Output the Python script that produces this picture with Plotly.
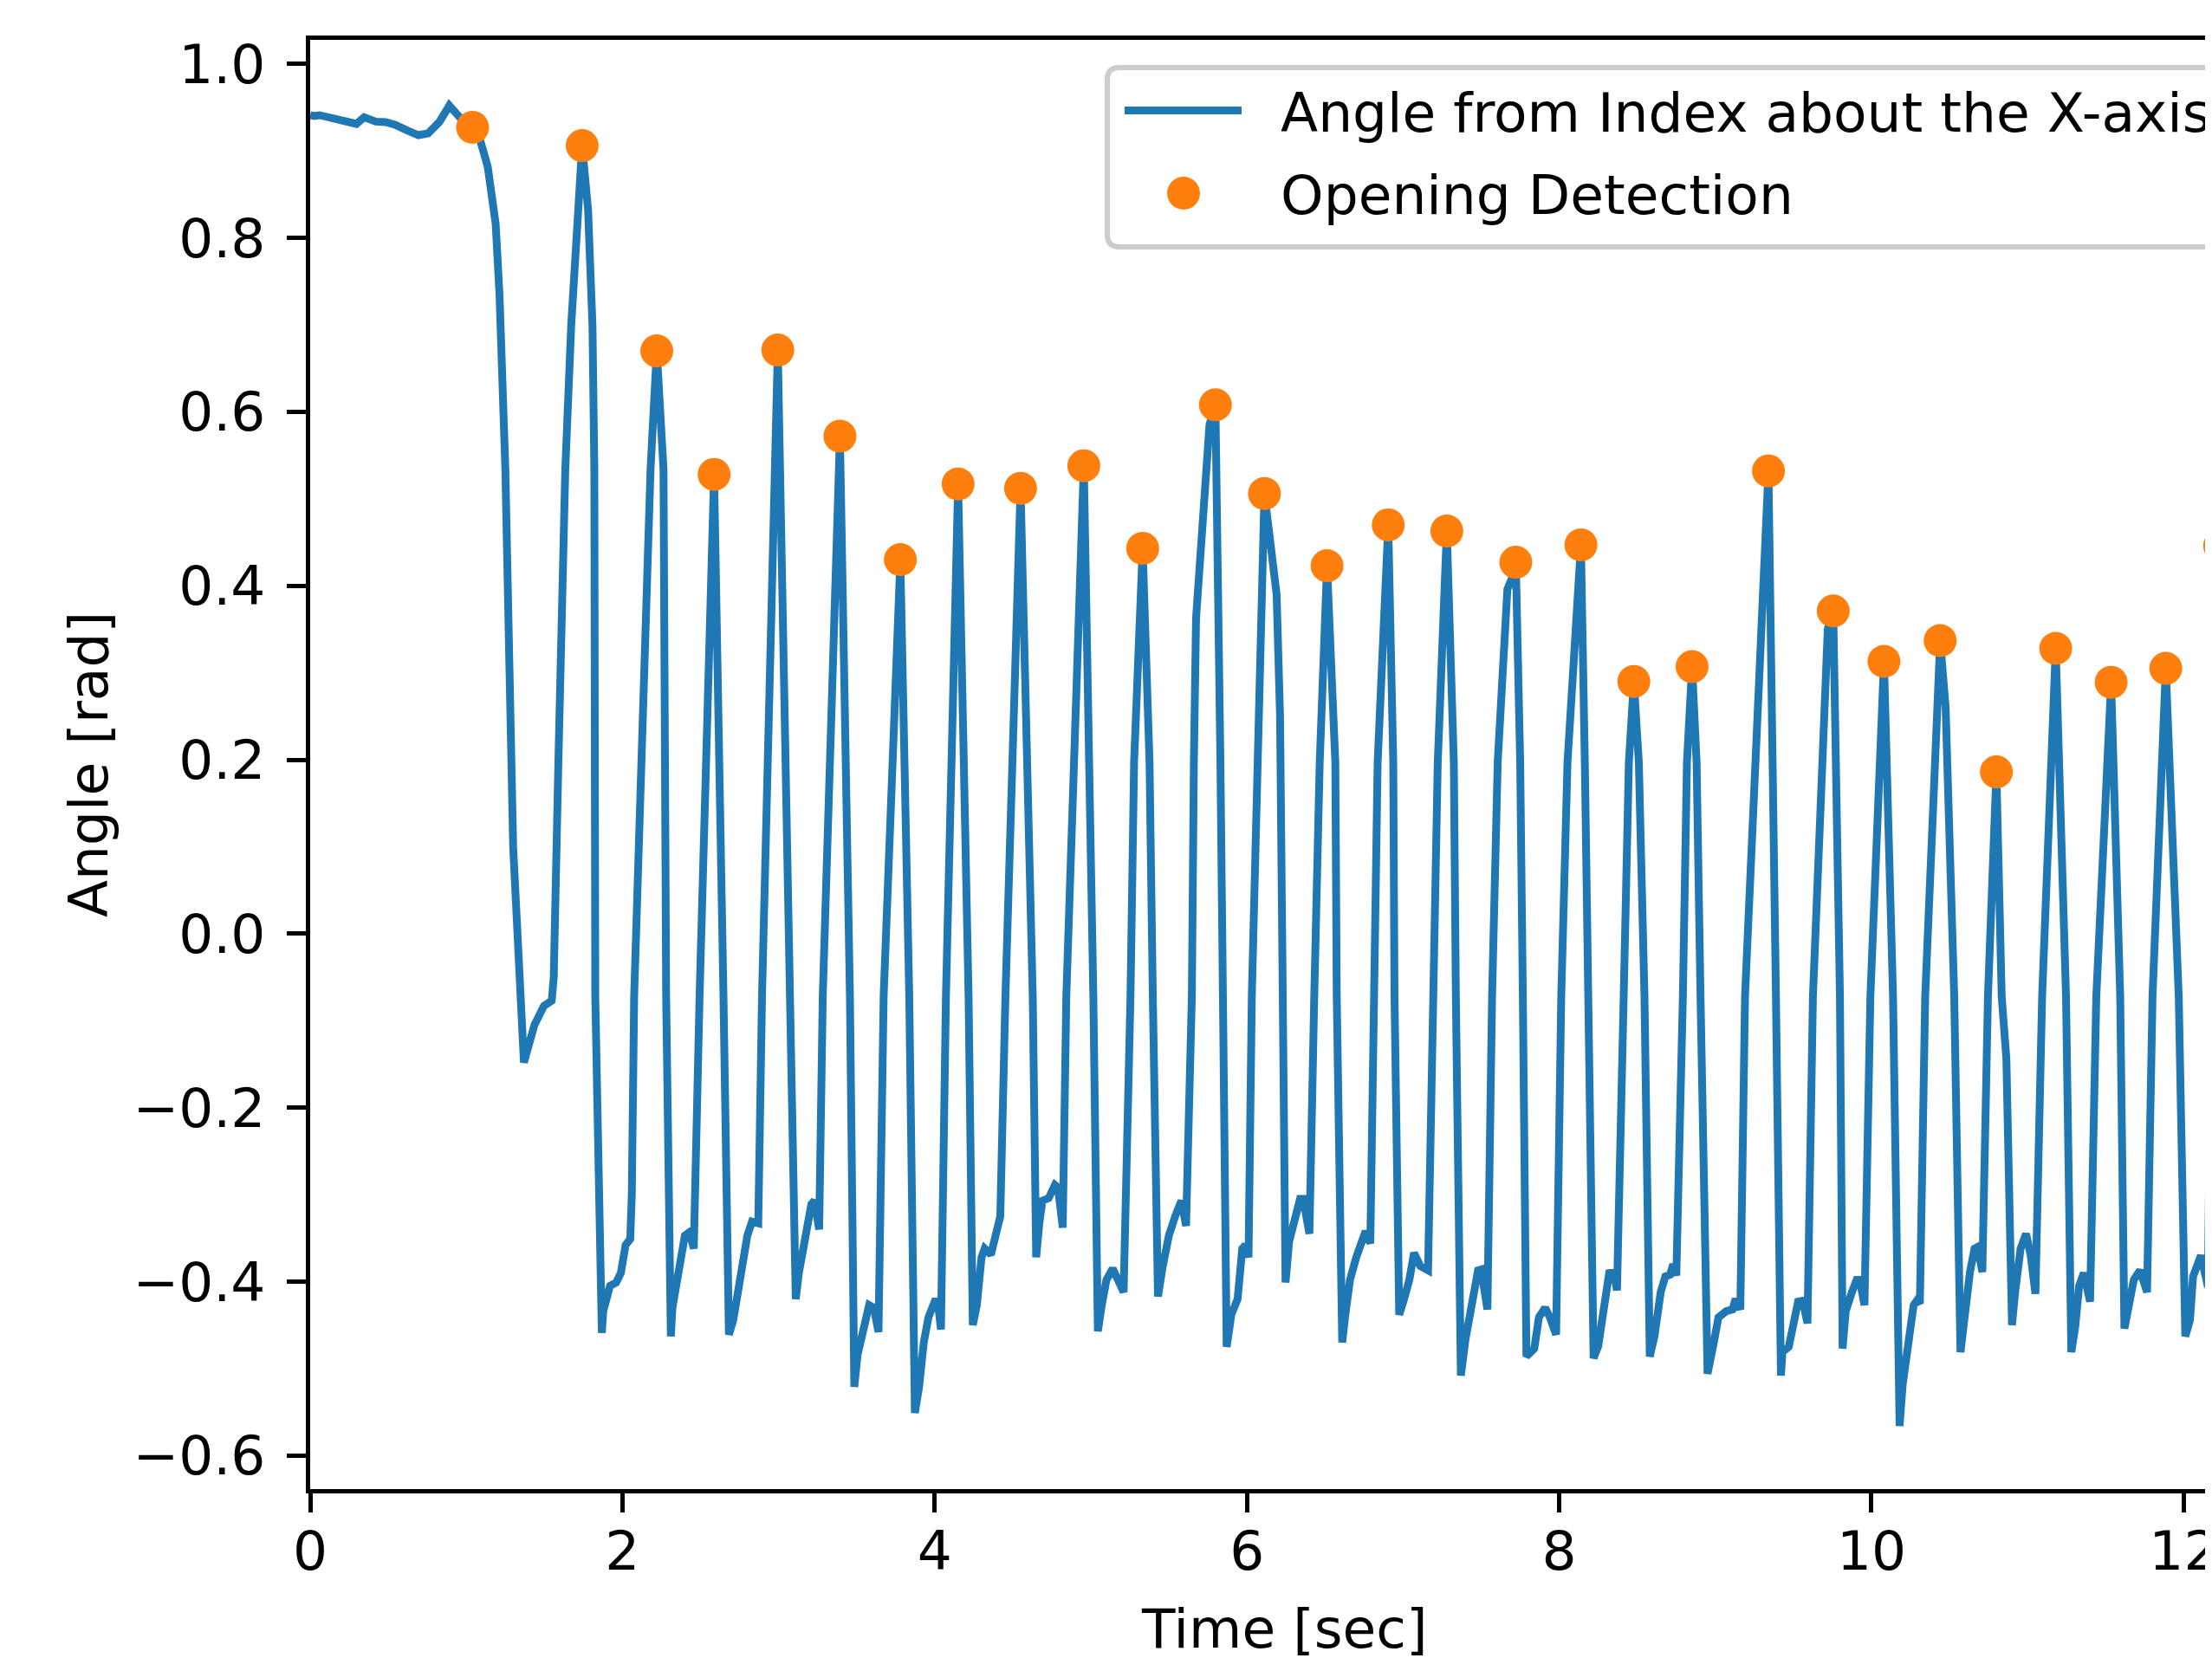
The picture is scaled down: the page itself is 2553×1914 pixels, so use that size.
import plotly.graph_objects as go

# ---------------- data ----------------
time_s = [
    0.000, 0.024, 0.060, 0.123, 0.198, 0.272, 0.296, 0.346, 0.420, 0.483, 0.543, 0.619, 0.693, 0.755,
    0.829, 0.891, 0.941, 0.990, 1.040, 1.089, 1.137, 1.188, 1.213, 1.237, 1.250, 1.300, 1.345, 1.369,
    1.436, 1.497, 1.547, 1.560, 1.590, 1.634, 1.672, 1.734, 1.742, 1.780, 1.808, 1.820, 1.826, 1.868,
    1.877, 1.920, 1.960, 1.990, 2.020, 2.050, 2.060, 2.075, 2.110, 2.180, 2.220, 2.263, 2.280, 2.310,
    2.320, 2.360, 2.400, 2.430, 2.457, 2.494, 2.587, 2.647, 2.682, 2.710, 2.750, 2.800, 2.830, 2.870,
    2.894, 2.995, 3.073, 3.110, 3.130, 3.160, 3.210, 3.230, 3.260, 3.283, 3.393, 3.457, 3.485, 3.506,
    3.550, 3.580, 3.610, 3.640, 3.673, 3.780, 3.837, 3.873, 3.900, 3.930, 3.960, 4.000, 4.020, 4.040,
    4.072, 4.150, 4.217, 4.244, 4.270, 4.300, 4.320, 4.360, 4.390, 4.420, 4.453, 4.550, 4.628, 4.650,
    4.670, 4.690, 4.730, 4.770, 4.790, 4.820, 4.843, 4.955, 5.016, 5.045, 5.070, 5.100, 5.140, 5.170,
    5.210, 5.254, 5.277, 5.332, 5.376, 5.397, 5.430, 5.460, 5.500, 5.540, 5.580, 5.610, 5.647, 5.660,
    5.674, 5.760, 5.798, 5.830, 5.848, 5.870, 5.900, 5.940, 5.970, 5.990, 6.010, 6.031, 6.112, 6.140,
    6.190, 6.212, 6.228, 6.247, 6.270, 6.300, 6.340, 6.360, 6.380, 6.400, 6.431, 6.466, 6.513, 6.566,
    6.575, 6.610, 6.630, 6.660, 6.700, 6.730, 6.760, 6.790, 6.820, 6.837, 6.905, 6.937, 6.945, 6.975,
    7.005, 7.040, 7.070, 7.110, 7.160, 7.190, 7.222, 7.280, 7.325, 7.338, 7.370, 7.400, 7.440, 7.480,
    7.500, 7.540, 7.570, 7.606, 7.668, 7.700, 7.722, 7.750, 7.767, 7.790, 7.840, 7.870, 7.910, 7.940,
    7.980, 8.013, 8.053, 8.139, 8.164, 8.185, 8.220, 8.250, 8.280, 8.320, 8.350, 8.370, 8.413, 8.446,
    8.478, 8.510, 8.546, 8.580, 8.610, 8.650, 8.680, 8.710, 8.730, 8.750, 8.792, 8.818, 8.851, 8.880,
    8.905, 8.950, 8.990, 9.020, 9.070, 9.110, 9.130, 9.160, 9.190, 9.340, 9.388, 9.420, 9.430, 9.470,
    9.500, 9.530, 9.560, 9.590, 9.625, 9.720, 9.755, 9.798, 9.815, 9.835, 9.875, 9.905, 9.925, 9.955,
    9.993, 10.080, 10.138, 10.180, 10.200, 10.230, 10.270, 10.290, 10.310, 10.344, 10.440, 10.475,
    10.530, 10.570, 10.600, 10.630, 10.660, 10.680, 10.710, 10.746, 10.800, 10.834, 10.864, 10.884,
    10.900, 10.920, 10.955, 10.990, 11.020, 11.050, 11.093, 11.180, 11.246, 11.280, 11.305, 11.330,
    11.360, 11.400, 11.440, 11.535, 11.593, 11.620, 11.650, 11.680, 11.720, 11.765, 11.800, 11.885,
    11.968, 12.010, 12.040, 12.060, 12.110, 12.155, 12.175, 12.230, 12.290,
]
angle_rad = [
    0.941, 0.940, 0.941, 0.9386, 0.936, 0.9336, 0.931, 0.9386, 0.9336, 0.933, 0.930, 0.9237, 0.918, 0.920,
    0.9336, 0.952, 0.942, 0.932, 0.927, 0.912, 0.882, 0.816, 0.733, 0.600, 0.534, 0.100, -0.072, -0.148,
    -0.105, -0.083, -0.077, -0.050, 0.200, 0.534, 0.700, 0.859, 0.906, 0.832, 0.700, 0.534, -0.072, -0.459,
    -0.434, -0.405, -0.401, -0.390, -0.358, -0.351, -0.300, -0.072, 0.150, 0.534, 0.670, 0.534, -0.072, -0.463,
    -0.430, -0.390, -0.347, -0.343, -0.362, -0.072, 0.528, -0.072, -0.461, -0.444, -0.398, -0.347, -0.331, -0.333,
    -0.072, 0.671, -0.072, -0.420, -0.390, -0.362, -0.311, -0.307, -0.340, -0.072, 0.572, -0.072, -0.521, -0.484,
    -0.444, -0.427, -0.430, -0.458, -0.072, 0.430, -0.072, -0.551, -0.521, -0.470, -0.441, -0.423, -0.423, -0.455,
    -0.072, 0.517, -0.072, -0.450, -0.427, -0.372, -0.362, -0.369, -0.347, -0.325, -0.072, 0.512, -0.072, -0.372,
    -0.333, -0.307, -0.304, -0.289, -0.292, -0.338, -0.072, 0.538, -0.072, -0.457, -0.427, -0.398, -0.385, -0.395,
    -0.412, -0.072, 0.197, 0.443, 0.197, -0.072, -0.417, -0.383, -0.347, -0.325, -0.307, -0.336, -0.072, 0.197,
    0.363, 0.585, 0.608, 0.197, -0.072, -0.475, -0.438, -0.420, -0.362, -0.358, -0.372, -0.072, 0.506, 0.470,
    0.390, 0.250, -0.072, -0.401, -0.354, -0.333, -0.305, -0.305, -0.325, -0.345, -0.072, 0.197, 0.423, 0.197,
    -0.072, -0.470, -0.438, -0.398, -0.372, -0.358, -0.342, -0.356, -0.072, 0.197, 0.470, 0.197, -0.072, -0.438,
    -0.421, -0.398, -0.367, -0.382, -0.387, -0.072, 0.197, 0.463, 0.197, -0.072, -0.508, -0.466, -0.420, -0.387,
    -0.386, -0.432, -0.072, 0.197, 0.396, 0.410, 0.427, 0.197, -0.072, -0.486, -0.477, -0.441, -0.430, -0.441,
    -0.461, -0.072, 0.197, 0.447, 0.197, -0.072, -0.488, -0.474, -0.434, -0.390, -0.389, -0.410, -0.072, 0.197,
    0.290, 0.197, -0.072, -0.486, -0.463, -0.412, -0.394, -0.392, -0.380, -0.393, -0.072, 0.197, 0.307, 0.197,
    -0.072, -0.506, -0.470, -0.441, -0.434, -0.432, -0.420, -0.432, -0.072, 0.532, -0.072, -0.508, -0.481, -0.475,
    -0.448, -0.423, -0.422, -0.448, -0.072, 0.350, 0.371, -0.072, -0.477, -0.434, -0.412, -0.398, -0.398, -0.427,
    -0.072, 0.313, -0.072, -0.566, -0.518, -0.477, -0.427, -0.422, -0.425, -0.072, 0.337, 0.260,
    -0.072, -0.481, -0.427, -0.390, -0.362, -0.360, -0.389, -0.072, 0.186, -0.072, -0.144, -0.325,
    -0.450, -0.412, -0.362, -0.345, -0.370, -0.414, -0.072, 0.328, -0.072, -0.481, -0.452, -0.405,
    -0.390, -0.423, -0.072, 0.289, -0.072, -0.454, -0.420, -0.398, -0.387, -0.412, -0.072, 0.305,
    -0.072, -0.463, -0.444, -0.394, -0.370, -0.406, -0.072, 0.446, -0.072,
]

detect_time_s = [
    1.040, 1.742, 2.220, 2.587, 2.995, 3.393, 3.780, 4.150, 4.550, 4.955, 5.332, 5.798, 6.112, 6.513, 6.905,
    7.280, 7.722, 8.139, 8.478, 8.851, 9.340, 9.755, 10.080, 10.440, 10.800, 11.180, 11.535, 11.885, 12.230,
]
detect_angle_rad = [
    0.927, 0.906, 0.670, 0.528, 0.671, 0.572, 0.430, 0.517, 0.512, 0.538, 0.443, 0.608, 0.506, 0.423, 0.470,
    0.463, 0.427, 0.447, 0.290, 0.307, 0.532, 0.371, 0.313, 0.337, 0.186, 0.328, 0.289, 0.305, 0.446,
]

line_label = "Angle from Index about the X-axis"
marker_label = "Opening Detection"
x_title = "Time [sec]"
y_title = "Angle [rad]"

x_tick_values = [0, 2, 4, 6, 8, 10, 12]
x_tick_labels = ["0", "2", "4", "6", "8", "10", "12"]
y_tick_values = [-0.6, -0.4, -0.2, 0.0, 0.2, 0.4, 0.6, 0.8, 1.0]
y_tick_labels = ["\u22120.6", "\u22120.4", "\u22120.2", "0.0", "0.2", "0.4", "0.6", "0.8", "1.0"]

# ---------------- styling / layout ----------------
PAGE_OFF = 8                      # default <body> margin of the html page
W, H = 2553 - PAGE_OFF, 1914 - PAGE_OFF
ML, MR, MT, MB = 358 - PAGE_OFF, 0, 46 - PAGE_OFF, 195
PW, PH = W - ML - MR, H - MT - MB
FONT = "DejaVu Sans"
FS = 63
BLUE = "#1f77b4"
ORANGE = "#ff7f0e"


def paper_x(px):   # screen pixel -> paper coordinate
    return (px - PAGE_OFF - ML) / PW


def paper_y(py):
    return (H - MB - (py - PAGE_OFF)) / PH


fig = go.Figure()
fig.add_trace(go.Scatter(
    x=time_s, y=angle_rad, mode="lines", name="\u00a0\u00a0" + line_label, legendgroup="angle",
    line=dict(color=BLUE, width=9),
))
fig.add_trace(go.Scatter(
    x=detect_time_s, y=detect_angle_rad, mode="markers", name="\u00a0\u00a0" + marker_label,
    legendgroup="detect",
    marker=dict(color=ORANGE, size=38, line=dict(width=0)),
))

# legend frame (rounded, semi transparent) and full-size legend marker
L, T, B, R, rr = 1278, 78, 285, 2650, 14
frame_path = (
    f"M{paper_x(L + rr)},{paper_y(T)} H{paper_x(R)} V{paper_y(B)} H{paper_x(L + rr)} "
    f"Q{paper_x(L)},{paper_y(B)} {paper_x(L)},{paper_y(B - rr)} V{paper_y(T + rr)} "
    f"Q{paper_x(L)},{paper_y(T)} {paper_x(L + rr)},{paper_y(T)} Z"
)
shapes = [
    dict(type="path", xref="paper", yref="paper", path=frame_path, layer="above",
         fillcolor="rgba(255,255,255,0.8)", line=dict(color="#cccccc", width=6)),
]
mcx, mcy, mr = 1366, 223, 19
shapes.append(dict(type="circle", xref="paper", yref="paper", layer="above",
                   x0=paper_x(mcx - mr), x1=paper_x(mcx + mr), y0=paper_y(mcy + mr), y1=paper_y(mcy - mr),
                   fillcolor=ORANGE, line=dict(width=0)))

fig.update_layout(
    width=W, height=H,
    margin=dict(l=ML, r=MR, t=MT, b=MB, pad=0, autoexpand=False),
    paper_bgcolor="white", plot_bgcolor="white",
    font=dict(family=FONT, size=FS, color="black"),
    showlegend=True,
    legend=dict(
        x=paper_x(1293), y=paper_y(80), xanchor="left", yanchor="top",
        bgcolor="rgba(0,0,0,0)", borderwidth=0,
        font=dict(family=FONT, size=FS, color="black"),
        itemwidth=135, tracegroupgap=10,
    ),
    shapes=shapes,
)

fig.update_xaxes(
    range=[0, 12.181], tickmode="array", tickvals=x_tick_values, ticktext=x_tick_labels,
    ticks="outside", ticklen=22, tickwidth=5, tickcolor="black", ticklabelstandoff=-10,
    ticklabeloverflow="allow",
    showline=True, linewidth=5, linecolor="black", mirror=True,
    showgrid=False, zeroline=False, automargin=False,
    tickfont=dict(family=FONT, size=FS, color="black"),
)
fig.update_yaxes(
    range=[-0.6385, 1.0276], tickmode="array", tickvals=y_tick_values, ticktext=y_tick_labels,
    ticks="outside", ticklen=22, tickwidth=5, tickcolor="black", ticklabelstandoff=12,
    showline=True, linewidth=5, linecolor="black", mirror=False,
    showgrid=False, zeroline=False, automargin=False,
    tickfont=dict(family=FONT, size=FS, color="black"),
    title=dict(text=y_title, standoff=10, font=dict(family=FONT, size=FS, color="black")),
)

fig.add_annotation(
    text=x_title, xref="paper", yref="paper",
    x=paper_x(1482), y=paper_y(1880),
    xanchor="center", yanchor="middle", showarrow=False,
    font=dict(family=FONT, size=FS, color="black"),
)

fig.write_html("out.html", config={"displayModeBar": False})
